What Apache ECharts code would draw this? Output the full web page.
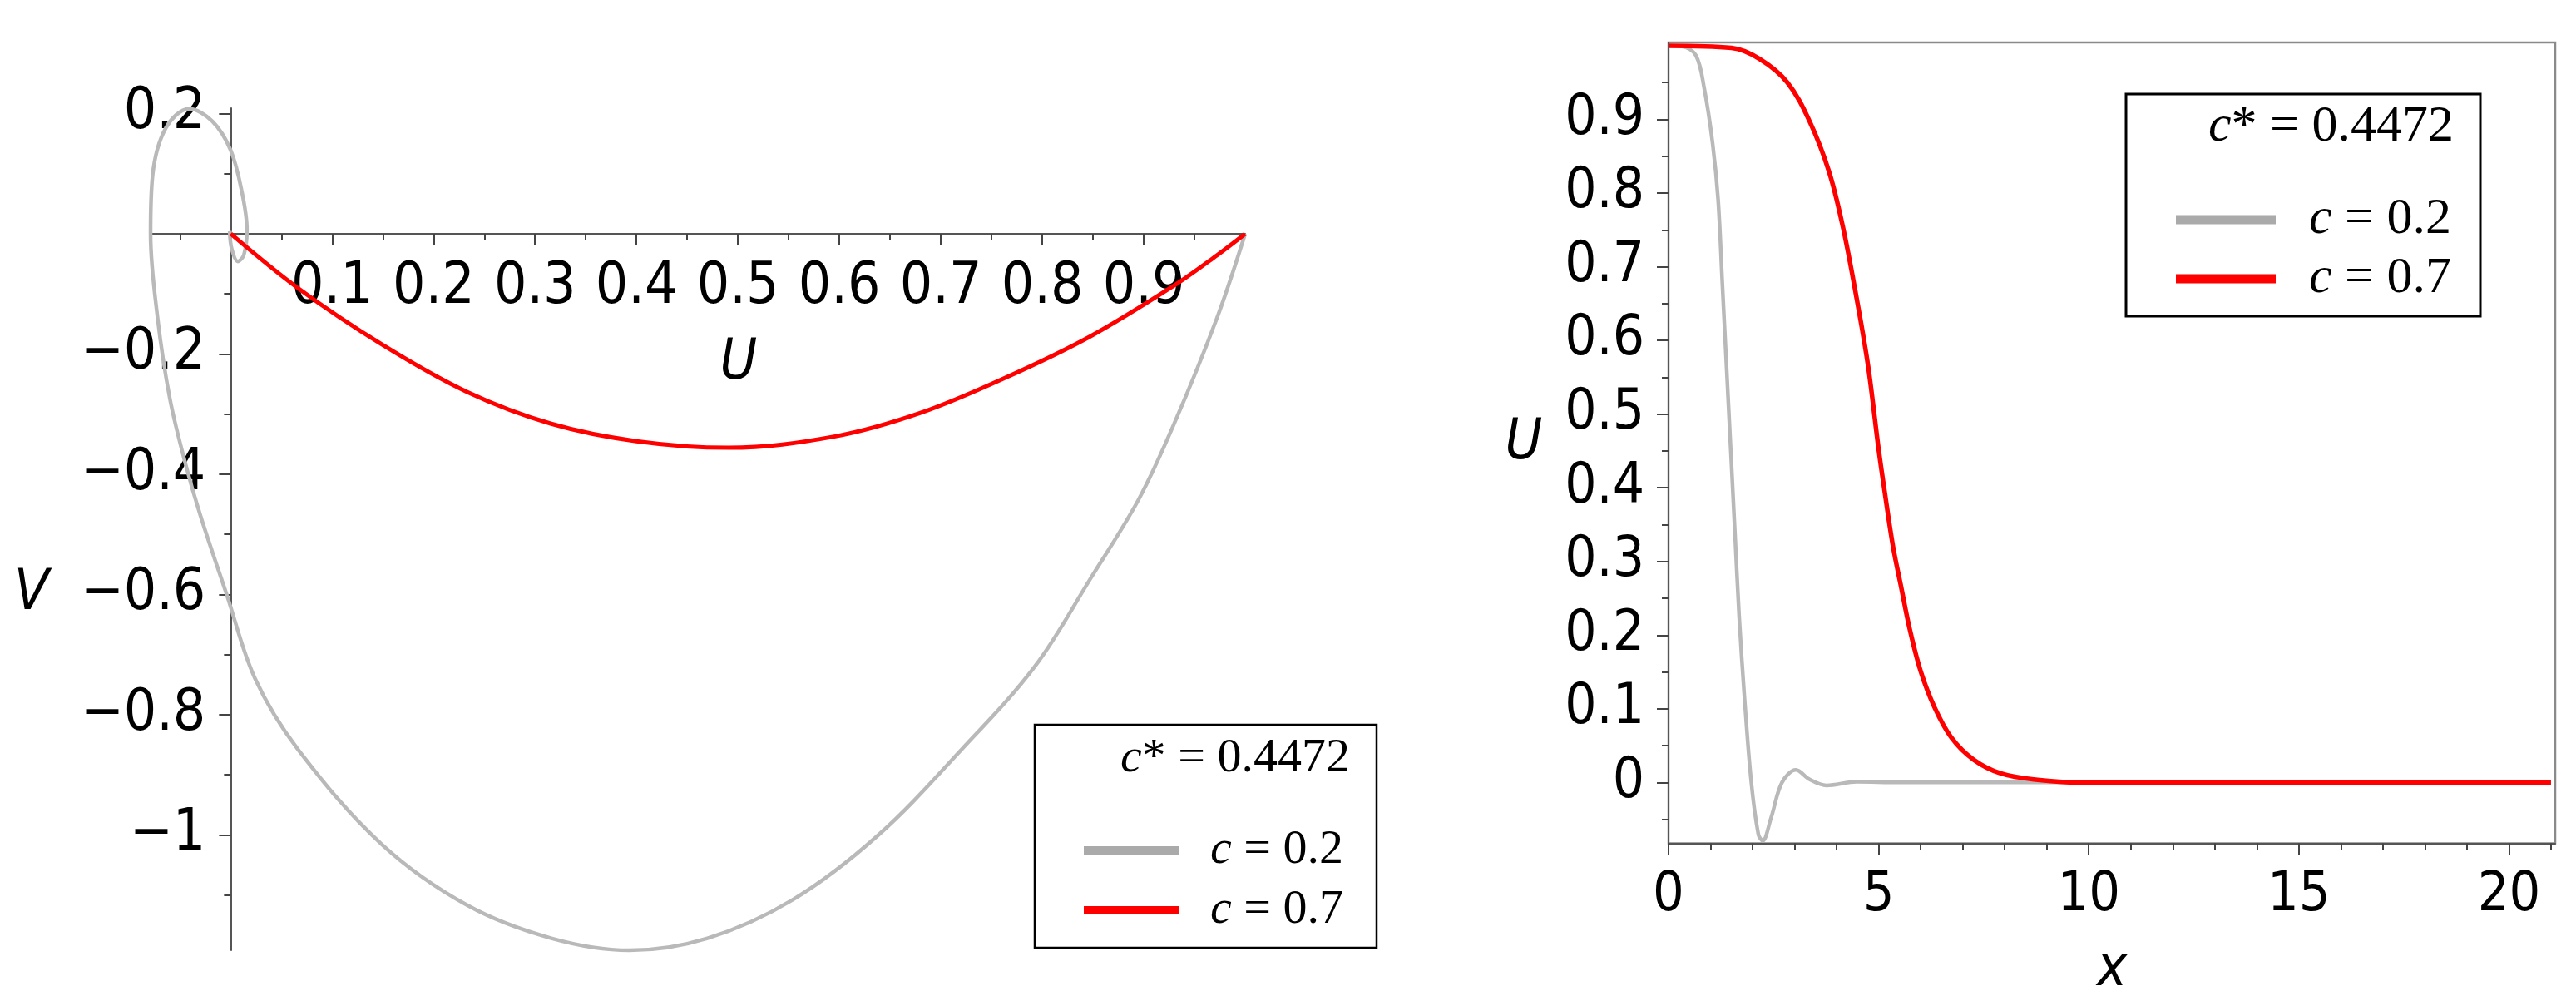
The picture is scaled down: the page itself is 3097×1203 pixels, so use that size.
<!DOCTYPE html>
<html>
<head>
<meta charset="utf-8">
<title>Phase plane and wave profiles</title>
<script src="https://cdn.jsdelivr.net/npm/echarts@6/dist/echarts.min.js"></script>
<style>
  html, body { margin: 0; padding: 0; background: #fff; }
  #chart { width: 3097px; height: 1203px; }
</style>
</head>
<body>
<div id="chart"></div>
<script>
// phase plane (U, V) for c = 0.2
const phaseGrayU = [1.000, 0.972, 0.930, 0.895, 0.847, 0.793, 0.721, 0.638, 0.554, 0.470, 0.393, 0.316, 0.233, 0.149, 0.066, 0.024, -0.004, -0.030, -0.045, -0.060, -0.072, -0.079, -0.077, -0.064, -0.041, -0.018, 0.000, 0.011, 0.016, 0.013, 0.007, 0.001, -0.001, 0.000]
const phaseGrayV = [0.000, -0.141, -0.316, -0.442, -0.575, -0.719, -0.857, -1.001, -1.108, -1.172, -1.192, -1.172, -1.117, -1.016, -0.857, -0.740, -0.600, -0.468, -0.380, -0.274, -0.141, 0.000, 0.097, 0.176, 0.208, 0.187, 0.139, 0.070, 0.007, -0.035, -0.046, -0.025, 0.004, 0.000]

// phase plane (U, V) for c = 0.7
const phaseRedU = [0, 0.066, 0.149, 0.233, 0.316, 0.400, 0.491, 0.596, 0.680, 0.763, 0.847, 0.930, 0.972, 1.000]
const phaseRedV = [0, -0.090, -0.184, -0.263, -0.316, -0.345, -0.356, -0.337, -0.298, -0.240, -0.171, -0.086, -0.036, 0]

// profiles U(x)
const profileGrayX = [0, 0.32, 0.65, 0.85, 1.05, 1.18, 1.28, 1.38, 1.48, 1.58, 1.68, 1.81, 1.97, 2.14, 2.24, 2.44, 2.70, 3.03, 3.36, 3.76, 4.48, 5.5, 21]
const profileGrayU = [1.0, 0.999, 0.987, 0.942, 0.867, 0.791, 0.678, 0.565, 0.452, 0.339, 0.226, 0.113, 0.0, -0.071, -0.079, -0.048, 0.0, 0.017, 0.004, -0.004, 0.001, 0, 0]
const profileRedX = [0, 1.5, 2.17, 2.83, 3.36, 3.82, 4.15, 4.48, 4.75, 5.0, 5.14, 5.34, 5.54, 5.74, 6.0, 6.33, 6.73, 7.26, 7.92, 8.78, 9.77, 21]
const profileRedU = [1.0, 0.997, 0.982, 0.950, 0.897, 0.829, 0.754, 0.656, 0.565, 0.452, 0.396, 0.321, 0.264, 0.208, 0.151, 0.102, 0.061, 0.031, 0.012, 0.0035, 0.0, 0.0]

const seriesNames = ['c = 0.2', 'c = 0.7']
const cStarText = '* = 0.4472'

// tick values
const phaseUTicks = [0.1, 0.2, 0.3, 0.4, 0.5, 0.6, 0.7, 0.8, 0.9]
const phaseUMinor = [-0.05, 0.05, 0.15, 0.25, 0.35, 0.45, 0.55, 0.65, 0.75, 0.85, 0.95]
const phaseVTicks = [0.2, -0.2, -0.4, -0.6, -0.8, -1]
const phaseVMinor = [0.1, -0.1, -0.3, -0.5, -0.7, -0.9, -1.1]
const profileXTicks = [0, 5, 10, 15, 20]
const profileXMinor = [1, 2, 3, 4, 6, 7, 8, 9, 11, 12, 13, 14, 16, 17, 18, 19, 21]
const profileUTicks = [0, 0.1, 0.2, 0.3, 0.4, 0.5, 0.6, 0.7, 0.8, 0.9]
const profileUMinor = [-0.05, 0.05, 0.15, 0.25, 0.35, 0.45, 0.55, 0.65, 0.75, 0.85, 0.95]

// view ranges
const phaseU = [-0.079, 1]
const phaseV = [-1.192, 0.209]
const profX = [0, 21.1]
const profU = [-0.0826, 1.0044]

const GRAY = '#b9b9b9'
const RED = '#ff0000'
const tickFont = "'DejaVu Sans Condensed', 'DejaVu Sans', sans-serif"
const mathFont = "'Liberation Serif', 'DejaVu Serif', serif"

const zip = (a, b) => a.map((v, i) => [v, b[i]])
const fmt = v => {
  const s = String(+Math.abs(v).toFixed(2))
  return v < 0 ? '\u2212' + s : s
}

const chart = echarts.init(document.getElementById('chart'))

// left plot: the axes cross at the origin, so each axis lives in a helper grid
// whose edge sits on the zero line of the plot grid
const L = { left: 181, top: 130, width: 1316, height: 1012 }
const pxPerU = L.width / (phaseU[1] - phaseU[0])
const pxPerV = L.height / (phaseV[1] - phaseV[0])
const zeroX = L.left - phaseU[0] * pxPerU
const zeroY = L.top + phaseV[1] * pxPerV

const tickLine = { color: '#444', width: 2 }

const hiddenAxis = (gridIndex, range) => ({
  gridIndex, type: 'value', min: range[0], max: range[1], show: false
})
const mainAxis = (gridIndex, range, position, ticks, margin, size) => ({
  gridIndex, type: 'value', min: range[0], max: range[1], position,
  axisLine: { onZero: false, lineStyle: { color: '#555', width: 2 } },
  axisTick: { customValues: ticks, length: 14, lineStyle: tickLine },
  axisLabel: { customValues: ticks, formatter: fmt, margin, fontSize: size, fontFamily: tickFont, color: '#000' },
  splitLine: { show: false }
})
const minorAxis = (gridIndex, range, position, ticks) => ({
  gridIndex, type: 'value', min: range[0], max: range[1], position,
  axisLine: { show: false, onZero: false },
  axisTick: { customValues: ticks, length: 8, lineStyle: tickLine },
  axisLabel: { show: false },
  splitLine: { show: false }
})

const legendBase = (left, top, w, h, size, lh, gap) => ({
  left, top, orient: 'vertical', itemGap: 0, padding: 0,
  itemWidth: w, itemHeight: h, icon: 'rect', selectedMode: false,
  data: [
    { name: seriesNames[0], itemStyle: { color: '#aaaaaa' } },
    { name: seriesNames[1], itemStyle: { color: RED } }
  ],
  formatter: name => '{i|c}{n|' + name.slice(1) + '}',
  textStyle: {
    fontSize: size, fontFamily: mathFont, color: '#000', lineHeight: lh,
    rich: {
      i: { fontSize: size, fontFamily: mathFont, fontStyle: 'italic', lineHeight: lh, padding: [0, 0, 0, gap] },
      n: { fontSize: size, fontFamily: mathFont, lineHeight: lh }
    }
  }
})

const cStar = (x, y, size) => ({
  type: 'text', x, y, z: 10,
  style: {
    text: '{i|c}{n|' + cStarText + '}', align: 'right', verticalAlign: 'middle', fill: '#000',
    rich: {
      i: { fontSize: size, fontFamily: mathFont, fontStyle: 'italic' },
      n: { fontSize: size, fontFamily: mathFont }
    }
  }
})
const axisName = (text, x, y) => ({
  type: 'text', x, y,
  style: { text, font: 'italic 68px ' + tickFont, fill: '#000', align: 'center', verticalAlign: 'middle' }
})

const lineSeries = (name, xi, data, color, width, z) => ({
  name, type: 'line', xAxisIndex: xi, yAxisIndex: xi, data,
  symbol: 'none', smooth: 0.35, clip: false, color, z,
  lineStyle: { color, width }
})

chart.setOption({
  animation: false,
  backgroundColor: '#fff',
  grid: [
    Object.assign({ show: false, outerBoundsMode: 'none' }, L),
    { left: 2006, top: 51, width: 1066, height: 962.5, show: true, borderColor: '#8a8a8a', borderWidth: 2.5, backgroundColor: 'transparent', outerBoundsMode: 'none' },
    { left: L.left, top: L.top, width: L.width, height: zeroY - L.top, show: false, outerBoundsMode: 'none' },
    { left: zeroX, top: L.top, width: L.left + L.width - zeroX, height: L.height, show: false, outerBoundsMode: 'none' }
  ],
  xAxis: [
    hiddenAxis(0, phaseU),
    mainAxis(1, profX, 'bottom', profileXTicks, 30, 66),
    minorAxis(1, profX, 'bottom', profileXMinor),
    mainAxis(2, phaseU, 'bottom', phaseUTicks, 31, 69),
    minorAxis(2, phaseU, 'bottom', phaseUMinor),
    hiddenAxis(3, [0, 1])
  ],
  yAxis: [
    hiddenAxis(0, phaseV),
    mainAxis(1, profU, 'left', profileUTicks, 29, 67),
    minorAxis(1, profU, 'left', profileUMinor),
    hiddenAxis(2, [0, 1]),
    mainAxis(3, phaseV, 'left', phaseVTicks, 30, 69),
    minorAxis(3, phaseV, 'left', phaseVMinor)
  ],
  legend: [
    legendBase(1303, 986, 115, 10, 58, 72, 32),
    legendBase(2616, 228.5, 120, 11, 62, 71, 35)
  ],
  graphic: [
    { type: 'rect', shape: { x: 1244, y: 871, width: 411, height: 268 }, style: { fill: 'none', stroke: '#000', lineWidth: 2.5 }, z: 10 },
    { type: 'rect', shape: { x: 2556, y: 113, width: 426, height: 267 }, style: { fill: 'none', stroke: '#000', lineWidth: 3 }, z: 10 },
    cStar(1623, 912, 58),
    cStar(2950, 153, 62),
    axisName('V', 38, 714),
    axisName('U', 888, 437),
    axisName('U', 1832, 533),
    axisName('x', 2539, 1166)
  ],
  series: [
    lineSeries(seriesNames[0], 0, zip(phaseGrayU, phaseGrayV), GRAY, 4.5, 2),
    lineSeries(seriesNames[1], 0, zip(phaseRedU, phaseRedV), RED, 5, 3),
    lineSeries(seriesNames[0], 1, zip(profileGrayX, profileGrayU), GRAY, 4.5, 2),
    lineSeries(seriesNames[1], 1, zip(profileRedX, profileRedU), RED, 5.5, 3)
  ]
})

window.addEventListener('resize', () => chart.resize())
</script>
</body>
</html>
